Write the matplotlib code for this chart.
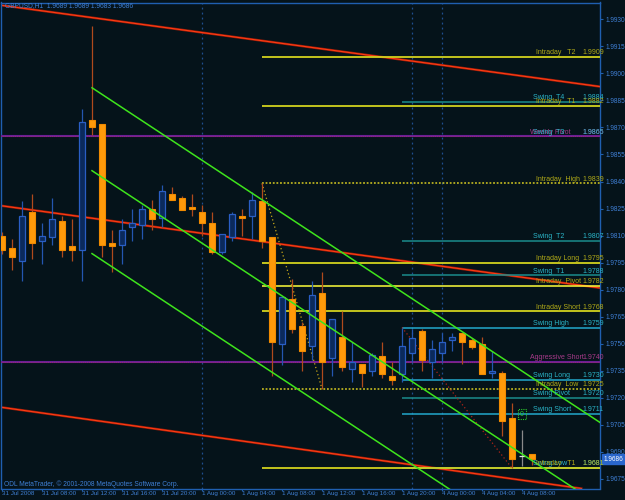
import matplotlib
matplotlib.use("Agg")
from matplotlib import pyplot as plt
from matplotlib.patches import Rectangle
import matplotlib.transforms as mtransforms

plt.rcParams["font.family"] = ["Liberation Sans", "DejaVu Sans"]

# ----- GBPUSD H1 bars (31 Jul 04:00 .. 4 Aug 09:00) -----
opens = [1.9810, 1.9803, 1.9796, 1.9823, 1.9807, 1.9809, 1.9818, 1.9804, 1.9802, 1.9874,
         1.9872, 1.9806, 1.9805, 1.9815, 1.9816, 1.9825, 1.9820, 1.9833, 1.9831, 1.9826,
         1.9823, 1.9817, 1.9801, 1.9809, 1.9821, 1.9821, 1.9829, 1.9809, 1.9750, 1.9775,
         1.9760, 1.9749, 1.9778, 1.9742, 1.9754, 1.9736, 1.9739, 1.9735, 1.9743, 1.9732,
         1.9733, 1.9745, 1.9757, 1.9740, 1.9745, 1.9752, 1.9756, 1.9752, 1.9750, 1.9734,
         1.9734, 1.9709, 1.9688, 1.9689]
highs = [1.9812, 1.9808, 1.9829, 1.9833, 1.9817, 1.9831, 1.9821, 1.9819, 1.9880, 1.9926,
         1.9872, 1.9813, 1.9819, 1.9825, 1.9827, 1.9830, 1.9838, 1.9837, 1.9832, 1.9833,
         1.9827, 1.9823, 1.9811, 1.9823, 1.9825, 1.9834, 1.9839, 1.9809, 1.9776, 1.9786,
         1.9762, 1.9785, 1.9790, 1.9764, 1.9768, 1.9751, 1.9739, 1.9745, 1.9751, 1.9740,
         1.9759, 1.9758, 1.9758, 1.9752, 1.9756, 1.9756, 1.9756, 1.9753, 1.9754, 1.9746,
         1.9735, 1.9717, 1.9702, 1.9689]
lows = [1.9800, 1.9791, 1.9785, 1.9797, 1.9794, 1.9805, 1.9798, 1.9796, 1.9785, 1.9866,
        1.9798, 1.9790, 1.9794, 1.9807, 1.9808, 1.9813, 1.9815, 1.9830, 1.9824, 1.9821,
        1.9810, 1.9800, 1.9800, 1.9807, 1.9810, 1.9808, 1.9803, 1.9732, 1.9738, 1.9756,
        1.9735, 1.9741, 1.9725, 1.9732, 1.9735, 1.9729, 1.9726, 1.9732, 1.9731, 1.9727,
        1.9729, 1.9740, 1.9735, 1.9731, 1.9740, 1.9746, 1.9739, 1.9747, 1.9733, 1.9731,
        1.9699, 1.9681, 1.9682, 1.9683]
closes = [1.9802, 1.9798, 1.9821, 1.9806, 1.9810, 1.9819, 1.9802, 1.9802, 1.9873, 1.9870,
          1.9805, 1.9804, 1.9813, 1.9817, 1.9825, 1.9819, 1.9835, 1.9830, 1.9824, 1.9825,
          1.9817, 1.9801, 1.9811, 1.9822, 1.9820, 1.9830, 1.9807, 1.9751, 1.9776, 1.9758,
          1.9746, 1.9777, 1.9740, 1.9764, 1.9737, 1.9740, 1.9734, 1.9744, 1.9733, 1.9730,
          1.9749, 1.9753, 1.9741, 1.9747, 1.9751, 1.9754, 1.9751, 1.9748, 1.9733, 1.9735,
          1.9707, 1.9686, 1.9688, 1.9686]

time_label_bars = [0, 4, 8, 12, 16, 20, 24, 28, 32, 36, 40, 44, 48, 52]
time_labels = ["31 Jul 2008", "31 Jul 08:00", "31 Jul 12:00", "31 Jul 16:00", "31 Jul 20:00",
               "1 Aug 00:00", "1 Aug 04:00", "1 Aug 08:00", "1 Aug 12:00", "1 Aug 16:00",
               "1 Aug 20:00", "4 Aug 00:00", "4 Aug 04:00", "4 Aug 08:00"]
separator_bars = [20, 41, 44]

price_ticks = [1.9675, 1.9690, 1.9705, 1.9720, 1.9735, 1.9750, 1.9765, 1.9780, 1.9795,
               1.9810, 1.9825, 1.9840, 1.9855, 1.9870, 1.9885, 1.9900, 1.9915, 1.9930]

# ----- pivot levels drawn by the indicator -----
intraday_start = 26
intraday_names = ["Intraday   T2", "Intraday   T1", "Intraday  High", "Intraday Long",
                  "Intraday  Pivot", "Intraday Short", "Intraday  Low", "Intraday   T1"]
intraday_prices = [1.9909, 1.9882, 1.9839, 1.9795, 1.9782, 1.9768, 1.9725, 1.9681]

swing_start = 40
swing_names = ["Swing  T4", "Swing  T3", "Swing  T2", "Swing  T1", "Swing High",
               "Swing Long", "Swing Pivot", "Swing Short", "Swing Low"]
swing_prices = [1.9884, 1.9865, 1.9807, 1.9788, 1.9759, 1.9730, 1.9720, 1.9711, 1.9681]

weekly_names = ["Weekly Pivot", "Aggressive Short"]
weekly_prices = [1.9865, 1.9740]

# trend lines: (bar, price) pairs
red_lines = [((0, 1.99377), (60, 1.98925)),
             ((0, 1.98265), (60, 1.97808)),
             ((0, 1.97147), (60, 1.96681))]
green_lines = [((9, 1.9892), (60, 1.97056)),
               ((9, 1.9846), (60, 1.96596)),
               ((9, 1.9800), (60, 1.96136))]
zigzags = [((26, 1.9839), (32, 1.9725), "#c8a818"),
           ((40, 1.9759), (51, 1.9681), "#b02418")]
signal_bar, signal_price = 52, 1.9711

BG = "#05131a"
AXIS = "#1f5fb0"
TXT = "#3f7fd4"

fig = plt.figure(figsize=(6.25, 5.0), dpi=100, facecolor=BG)
ax = fig.add_axes([1 / 625, 11.5 / 500, 599 / 625, 486 / 500], facecolor=BG)
ax.set_xlim(-0.1, 59.8)
ax.set_ylim(1.96697, 1.99393)

for s in ax.spines.values():
    s.set_color(AXIS)
    s.set_linewidth(1.0)

# period separators
for b in separator_bars:
    ax.axvline(b, color="#1f4f90", ls=(0, (1.5, 2.5)), lw=0.9, zorder=1)

# trend lines
for p1, p2 in red_lines:
    ax.axline(p1, p2, color="#9a1c08", lw=1.7, zorder=2)
    ax.axline(p1, p2, color="#ff3c14", lw=0.8, zorder=2)
for p1, p2 in green_lines:
    ax.plot([p1[0], p2[0]], [p1[1], p2[1]], color="#3ee41c", lw=1.1, zorder=6)

# horizontal levels
xr = 60
trans_lab = mtransforms.blended_transform_factory(ax.transAxes, ax.transData)

for name, price in zip(swing_names, swing_prices):
    col = "#22a8cc" if name.split()[-1] in ("High", "Long", "Short", "Low") else "#1b8c8c"
    ax.hlines(price, swing_start, xr, color=col, lw=1.1, zorder=3)

for name, price in zip(weekly_names, weekly_prices):
    ax.hlines(price, -1, xr, color="#6a1f96", lw=1.5, zorder=3.5)
    ax.hlines(price, -1, xr, color="#9a2a70", lw=0.7, ls=(0, (1, 1)), zorder=3.5)

for name, price in zip(intraday_names, intraday_prices):
    if "High" in name or "Low" in name:
        ax.hlines(price, intraday_start, xr, color="#b8b020", lw=1.3, ls=(0, (1, 1)), zorder=3)
    elif "Pivot" in name:
        ax.hlines(price, intraday_start, xr, color="#ffff3a", lw=1.1, zorder=3)
    else:
        ax.hlines(price, intraday_start, xr, color="#d2d21e", lw=1.3, zorder=3)

# zigzag
for p1, p2, col in zigzags:
    ax.plot([p1[0], p2[0]], [p1[1], p2[1]], color=col, lw=0.9, ls=(0, (1, 2)), zorder=4)

# candles
for i, (o, h, l, c) in enumerate(zip(opens, highs, lows, closes)):
    if c > o:
        ax.vlines(i, l, h, color="#2456b0", lw=0.9, zorder=5)
        ax.add_patch(Rectangle((i - 0.3, o), 0.6, c - o, fc="#0b2a5c", ec="#2a5ec4", lw=0.9, zorder=5))
    elif c < o:
        ax.vlines(i, l, h, color="#b04a1c", lw=0.9, zorder=5)
        ax.add_patch(Rectangle((i - 0.3, c), 0.6, o - c, fc="#ff9a0a", ec="#f08a00", lw=0.8, zorder=5))
    else:
        ax.vlines(i, l, h, color="#8a8a8a", lw=0.9, zorder=5)
        ax.hlines(o, i - 0.3, i + 0.3, color="#e0e0e0", lw=0.9, zorder=5)

# level labels
fs = 5.0
for name, price in zip(weekly_names, weekly_prices):
    ax.text(0.883, price + 0.00004, name, color="#a83a8a", fontsize=fs, transform=trans_lab,
            va="bottom", ha="left", zorder=7)
    ax.text(0.970, price + 0.00004, f"{price:.4f}", color="#a83a8a", fontsize=fs,
            transform=trans_lab, va="bottom", ha="left", zorder=7)
for name, price in zip(swing_names, swing_prices):
    ax.text(0.888, price + 0.00004, name, color="#2ab4c8", fontsize=fs, transform=trans_lab,
            va="bottom", ha="left", zorder=7)
    ax.text(0.970, price + 0.00004, f"{price:.4f}", color="#2ab4c8", fontsize=fs,
            transform=trans_lab, va="bottom", ha="left", zorder=7)
for name, price in zip(intraday_names, intraday_prices):
    ax.text(0.893, price + 0.00004, name, color="#b0aa18", fontsize=fs, transform=trans_lab,
            va="bottom", ha="left", zorder=7)
    ax.text(0.970, price + 0.00004, f"{price:.4f}", color="#b0aa18", fontsize=fs,
            transform=trans_lab, va="bottom", ha="left", zorder=7)

# signal marker
ax.text(signal_bar, signal_price, "0", color="#2ec82e", fontsize=5, ha="center", va="center",
        zorder=8, bbox=dict(boxstyle="square,pad=0.25", fc="none", ec="#2ec82e", ls=(0, (1, 1)), lw=0.8))

# axes
ax.yaxis.tick_right()
ax.set_yticks(price_ticks)
ax.set_yticklabels([f"{p:.4f}" for p in price_ticks])
ax.set_xticks(time_label_bars)
ax.set_xticklabels(time_labels, ha="left")
ax.tick_params(axis="both", colors=AXIS, labelcolor=TXT, width=0.8)
ax.tick_params(axis="y", labelsize=4.7, length=2.5, pad=1.2)
ax.tick_params(axis="x", labelsize=4.5, length=1.5, pad=0.5)

# current price tag
ax.annotate(f"{closes[-1]:.4f}", xy=(1.0, closes[-1]), xycoords=trans_lab, xytext=(2.5, 0),
            textcoords="offset points", color="#ffffff", fontsize=4.7, va="center", ha="left",
            bbox=dict(boxstyle="square,pad=0.25", fc="#2a66cc", ec="#2a66cc"), annotation_clip=False)

ax.text(0.007, 0.993, "GBPUSD,H1  1.9689 1.9689 1.9683 1.9686", transform=ax.transAxes,
        color=TXT, fontsize=4.8, va="center", ha="left", zorder=8)
ax.text(0.005, 0.009, "ODL MetaTrader, \u00a9 2001-2008 MetaQuotes Software Corp.",
        transform=ax.transAxes, color=TXT, fontsize=4.8, va="center", ha="left", zorder=8)

fig.savefig("out.png", dpi=100, facecolor=BG)
